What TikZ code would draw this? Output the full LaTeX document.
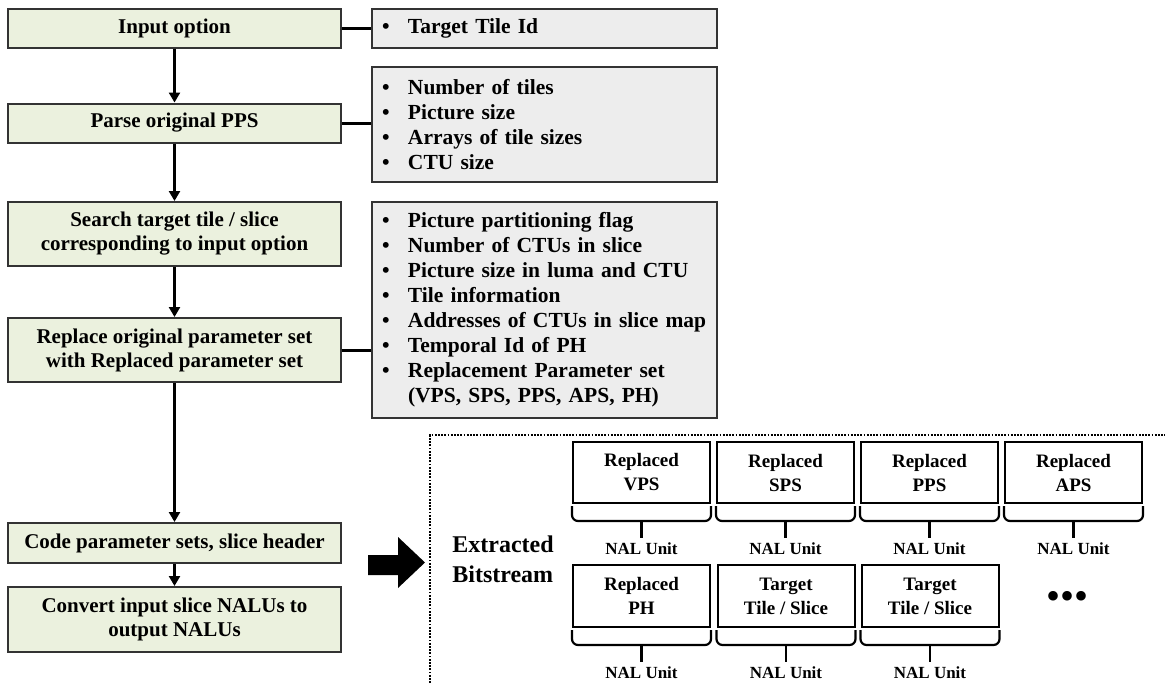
\documentclass[tikz,border=0pt]{standalone}
\usepackage{fontspec}
\setmainfont{Liberation Serif}
\usetikzlibrary{arrows.meta}

\definecolor{flowgreen}{RGB}{235,241,222}
\definecolor{infogray}{RGB}{237,237,237}

\newcommand{\bitem}{\makebox[26pt][l]{\textbullet}}

\tikzset{
	stepbox/.style = {draw = black!80, line width = 2pt, fill = flowgreen, minimum width = 333pt,
		align = center, inner sep = 0pt, font = \fontsize{21}{24}\selectfont\bfseries},
	infobox/.style = {draw = black!80, line width = 2pt, fill = infogray, minimum width = 345pt,
		text width = 325pt, inner xsep = 10pt, inner ysep = 0pt, align = left,
		font = \fontsize{21.5}{25}\selectfont\bfseries},
	nalbox/.style = {draw = black, line width = 2pt, fill = white, minimum width = 137pt,
		align = center, inner sep = 0pt, font = \fontsize{19}{24}\selectfont\bfseries},
	nallabel/.style = {inner sep = 0pt, font = \fontsize{17}{20}\selectfont\bfseries},
	nalbrace/.style = {line width = 2.2pt, rounded corners = 6pt},
	flow/.style = {-{Triangle[length = 10pt, width = 11pt]}, line width = 2.6pt},
	link/.style = {line width = 3pt}
}

\begin{document}
\begin{tikzpicture}[x = 1pt, y = -1pt]
	\useasboundingbox (0, 0) rectangle (1165, 683);
	
	% processing steps
	\node[stepbox, minimum height = 39pt] (input) at (174.5, 28) {Input option};
	\node[stepbox, minimum height = 39pt] (parse) at (174.5, 123) {Parse original PPS};
	\node[stepbox, minimum height = 64pt] (search) at (174.5, 234) {Search target tile / slice\\corresponding to input option};
	\node[stepbox, minimum height = 64pt] (replace) at (174.5, 350) {Replace original parameter set\\with Replaced parameter set};
	\node[stepbox, minimum height = 40pt] (code) at (174.5, 543) {Code parameter sets, slice header};
	\node[stepbox, minimum height = 65pt] (convert) at (174.5, 619.5) {Convert input slice NALUs to\\output NALUs};
	
	% details
	\node[infobox, minimum height = 39pt] (tileid) at (544.5, 28) {\bitem Target Tile Id};
	\node[infobox, minimum height = 115pt] (ppsinfo) at (544.5, 124.5) {\bitem Number of tiles\\\bitem Picture size\\\bitem Arrays of tile sizes\\\bitem CTU size};
	\node[infobox, minimum height = 216pt] (setinfo) at (544.5, 310) {\bitem Picture partitioning flag\\\bitem Number of CTUs in slice\\\bitem Picture size in luma and CTU\\\bitem Tile information\\\bitem Addresses of CTUs in slice map\\\bitem Temporal Id of PH\\\bitem Replacement Parameter set\\\hspace*{26pt}(VPS, SPS, PPS, APS, PH)};
	
	% arrows
	\draw[flow] (input) -- (parse);
	\draw[flow] (parse) -- (search);
	\draw[flow] (search) -- (replace);
	\draw[flow] (replace) -- (code);
	\draw[flow] (code) -- (convert);
	
	% links
	\draw[link] (input.east) -- (tileid.west |- input.east);
	\draw[link] (parse.east) -- (ppsinfo.west |- parse.east);
	\draw[link] (replace.east) -- (setinfo.west |- replace.east);
	
	% output
	\fill (368, 555) -- (398, 555) -- (398, 537) -- (425, 562.5) -- (398, 588) -- (398, 575) -- (368, 575) -- cycle;
	\draw[line width = 2.2pt, dash pattern = on 1.8pt off 1.4pt] (430, 683) -- (430, 435) -- (1165, 435);
	\node[inner sep = 0pt, align = left, font = \fontsize{24}{30}\selectfont\bfseries] (extract) at (503, 559) {Extracted\\Bitstream};
	
	% NAL units
	\node[nalbox, minimum height = 61pt] (vps) at (641.5, 472.5) {Replaced\\VPS};
	\node[nalbox, minimum height = 61pt] (sps) at (785.5, 472.5) {Replaced\\SPS};
	\node[nalbox, minimum height = 61pt] (pps) at (929.5, 472.5) {Replaced\\PPS};
	\node[nalbox, minimum height = 61pt] (aps) at (1073.5, 472.5) {Replaced\\APS};
	\node[nalbox, minimum height = 62pt] (ph) at (641.5, 596) {Replaced\\PH};
	\node[nalbox, minimum height = 62pt] (tgta) at (786, 596) {Target\\Tile / Slice};
	\node[nalbox, minimum height = 62pt] (tgtb) at (930, 596) {Target\\Tile / Slice};
	\node[inner sep = 0pt, font = \fontsize{40}{40}\selectfont] (more) at (1067, 600) {•••};
	
	\foreach \n in {vps, sps, pps, aps, ph, tgta, tgtb} {
		\draw[nalbrace] ([yshift = -2pt]\n.south west) |- ([yshift = -17pt]\n.south) -| ([yshift = -2pt]\n.south east);
		\draw[nalbrace] ([yshift = -17pt]\n.south) -- ([yshift = -34pt]\n.south)
			node[nallabel, anchor = north, yshift = -4pt] (\n lbl) {NAL Unit};
	}
	
\end{tikzpicture}
\end{document}
